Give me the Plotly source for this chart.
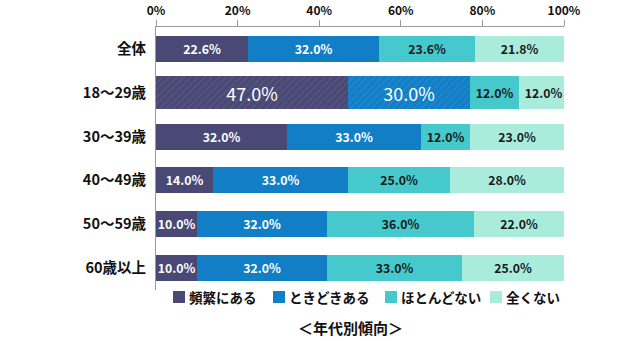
import plotly.graph_objects as go

categories = ["全体", "18～29歳", "30～39歳", "40～49歳", "50～59歳", "60歳以上"]
series_names = ["頻繁にある", "ときどきある", "ほとんどない", "全くない"]
frequent = [22.6, 47.0, 32.0, 14.0, 10.0, 10.0]
sometimes = [32.0, 30.0, 33.0, 33.0, 32.0, 32.0]
rarely = [23.6, 12.0, 12.0, 25.0, 36.0, 33.0]
never = [21.8, 12.0, 23.0, 28.0, 22.0, 25.0]
tick_vals = [0, 20, 40, 60, 80, 100]
tick_text = ["0%", "20%", "40%", "60%", "80%", "100%"]

colors = ["#4a4874", "#127ec6", "#45c9cc", "#a9ecdc"]
stripe = ["#66658c", "#3594d3", None, None]
text_colors = ["white", "white", "#1a1a1a", "#1a1a1a"]
highlight = 1  # index of highlighted row

FONT = "Noto Sans CJK JP, Noto Sans, sans-serif"

# plot area in pixels
L, R, T, B = 156, 564, 27, 290
PW, PH = R - L, B - T


def px(x):
    return (x - L) / PW


def py(y):
    return (B - y) / PH


fig = go.Figure()
for i, (name, vals) in enumerate(zip(series_names, [frequent, sometimes, rarely, never])):
    widths = [0.75 if k == highlight else 0.59 for k in range(len(categories))]
    big = [k == highlight and i < 2 for k in range(len(categories))]
    marker = dict(color=colors[i], line=dict(width=0))
    if stripe[i]:
        marker["pattern"] = dict(
            shape=["/" if k == highlight else "" for k in range(len(categories))],
            fillmode="overlay",
            fgcolor=stripe[i],
            size=5,
            solidity=0.25,
        )
    fig.add_trace(go.Bar(
        y=categories, x=vals, name=name, orientation="h",
        width=widths, marker=marker,
        text=[f"{v:.1f}%" for v in vals],
        textposition="inside", insidetextanchor="middle",
        constraintext="none",
        textfont=dict(color=text_colors[i],
                      size=[18 if b else 12.3 for b in big],
                      weight=["normal" if b else "bold" for b in big],
                      family=FONT),
        hoverinfo="skip",
        showlegend=False,
    ))

# manual compact legend (symbol directly followed by text)
legend_x = [173, 273, 385, 490]
legend_y = 297
shapes = []
annotations = []
for i, name in enumerate(series_names):
    x0 = legend_x[i]
    shapes.append(dict(type="rect", xref="paper", yref="paper",
                       x0=px(x0), x1=px(x0 + 12), y0=py(legend_y + 6), y1=py(legend_y - 6),
                       fillcolor=colors[i], line=dict(width=0)))
    annotations.append(dict(text=name, x=px(x0 + 14), y=py(legend_y), xref="paper", yref="paper",
                            xanchor="left", yanchor="middle", showarrow=False,
                            font=dict(size=13.5, family=FONT, color="#111", weight="bold")))
annotations.append(dict(
    text="＜年代別傾向＞", x=px(350), xref="paper",
    y=py(327), yref="paper", xanchor="center", yanchor="middle",
    showarrow=False, font=dict(size=15, family=FONT, color="#111", weight="bold"),
))

fig.update_layout(
    barmode="stack",
    width=640, height=341,
    margin=dict(l=L, r=640 - R, t=T, b=341 - B, autoexpand=False),
    paper_bgcolor="white", plot_bgcolor="white",
    font=dict(family=FONT, color="#111"),
    bargap=0,
    xaxis=dict(
        side="top", range=[0, 100], tickvals=tick_vals, ticktext=tick_text,
        showgrid=False, zeroline=False, showline=True, linecolor="#999", linewidth=1,
        ticks="outside", ticklen=6, tickcolor="#999",
        tickfont=dict(size=12, family=FONT, color="#111", weight="bold"),
        fixedrange=True,
    ),
    yaxis=dict(
        autorange="reversed", showgrid=False, zeroline=False, showline=True,
        linecolor="#999", linewidth=1, ticks="", ticklabelstandoff=6,
        tickfont=dict(size=14.5, family=FONT, color="#111", weight="bold"),
    ),
    showlegend=False,
    shapes=shapes,
    annotations=annotations,
)

fig.write_html("out.html")
